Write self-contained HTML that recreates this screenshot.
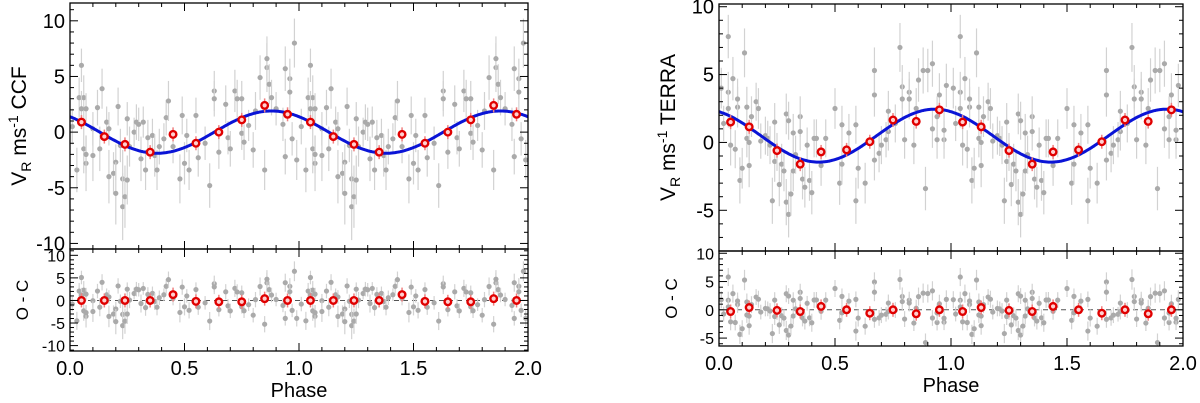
<!DOCTYPE html>
<html><head><meta charset="utf-8"><style>body{margin:0;background:#fff}svg{display:block}text{font-family:"Liberation Sans",sans-serif}</style></head>
<body>
<svg id="c" width="1200" height="403"></svg>
<script>
// Left (CCF) data, one phase period
const ccfPhase=[0.05,0.04,0.06,0.05,0.07,0.06,0.07,0.07,0.03,0.1,0.1,0.14,0.12,0.13,0.16,0.17,0.17,0.19,0.2,0.2,0.21,0.22,0.23,0.23,0.24,0.25,0.25,0.26,0.28,0.29,0.3,0.31,0.32,0.33,0.34,0.36,0.37,0.38,0.39,0.41,0.42,0.43,0.45,0.48,0.49,0.5,0.51,0.52,0.55,0.56,0.59,0.61,0.63,0.63,0.65,0.68,0.69,0.7,0.72,0.73,0.75,0.75,0.76,0.78,0.8,0.81,0.83,0.85,0.86,0.86,0.87,0.88,0.9,0.93,0.94,0.94,0.96,0.96,0.97,0.98,0.99,0.01];
const ccfValue=[6.0,3.1,3.1,2.1,2.1,-1.5,-2.8,-2.0,-3.4,0.3,-2.1,3.9,2.2,-1.5,0.9,0.3,-4.0,-3.7,-2.7,-5.5,2.3,-1.2,-4.2,-6.7,-5.8,-4.3,1.2,-1.3,0,0.9,0.7,-2.4,0.9,-3.4,-0.5,-0.3,-2.1,-3.4,-1.3,-0.6,1.3,2.8,-1.3,-4.2,1.5,-2.8,-0.3,-3.4,1.5,-2.3,-1.0,-4.8,3.7,3.0,-1.8,2.5,-0.5,-1.5,3.7,3.0,3.0,-0.1,-0.9,0.6,-1.6,1.9,4.9,-3.4,5.8,6.6,4.3,3.1,2.1,0.7,5.7,-2.2,4.8,3.6,-0.6,8.0,-2.5,0.5];
const ccfErr=[1.5,1.8,2.0,1.6,1.4,2.2,2.5,1.7,2.0,1.5,2.3,1.8,1.6,2.0,1.4,1.5,2.4,1.9,1.6,2.8,1.7,1.5,2.6,3.0,2.8,2.2,1.5,1.8,1.3,1.6,1.5,2.0,1.4,1.8,1.6,1.5,1.9,1.8,1.6,1.4,1.6,1.8,1.5,2.2,1.7,1.9,1.5,1.8,1.6,1.7,1.5,2.0,1.8,1.6,1.5,1.7,1.5,1.6,1.9,1.7,1.6,1.5,1.6,1.4,1.6,1.7,2.0,1.8,2.2,2.0,1.8,1.6,1.5,1.5,2.0,1.6,1.8,1.7,1.5,2.2,1.8,1.6];
const ccfBinPhase=[0.05,0.15,0.24,0.35,0.45,0.55,0.65,0.75,0.85,0.95];
const ccfBinValue=[0.9,-0.4,-1.1,-1.8,-0.2,-1.0,0.0,1.1,2.4,1.6];
const ccfBinResid=[0.0,0.0,0.0,0.0,1.3,-0.2,-0.3,-0.3,0.4,0.0];
const ccfModel={K:1.9,off:0,peak:0.88};
// Right (TERRA) data
const terPhase=[0.04,0.01,0.02,0.04,0.04,0.05,0.06,0.07,0.08,0.08,0.09,0.1,0.11,0.12,0.12,0.13,0.13,0.14,0.16,0.17,0.18,0.2,0.21,0.22,0.23,0.24,0.24,0.25,0.26,0.27,0.28,0.29,0.29,0.3,0.3,0.31,0.32,0.32,0.33,0.35,0.35,0.36,0.37,0.38,0.39,0.4,0.41,0.42,0.44,0.46,0.5,0.52,0.53,0.53,0.56,0.59,0.59,0.6,0.63,0.67,0.67,0.67,0.69,0.7,0.72,0.73,0.73,0.76,0.78,0.79,0.79,0.8,0.82,0.82,0.84,0.85,0.86,0.89,0.88,0.9,0.92,0.92,0.94,0.94,0.95,0.97,0.97,0.98];
const terValue=[7.8,4.0,1.4,3.7,2.5,-0.2,4.7,-0.5,2.6,3.2,-2.8,-1.9,6.6,2.6,0.3,-1.7,0,1.9,3.0,2.5,0.1,0.5,0.3,-0.2,-4.3,-1.4,1.5,-0.7,-3.1,-1.6,-2.1,-4.4,2.1,1.6,-5.3,-3.8,0.7,-2.1,-0.9,1.9,0.8,-2.7,-3.3,-0.2,-2.8,-3.7,0.3,0.3,-1.7,0.3,2.5,-3.0,1.3,-1.6,0.7,-4.3,1.3,-1.9,-3.0,5.3,3.5,-1.3,-0.8,-0.2,0.2,0.8,2.3,1.4,7.0,4.1,3.2,0.2,3.7,3.2,-0.2,2.5,4.6,-3.4,5.3,5.3,1.0,5.8,0.2,1.9,3.5,0.2,0.9,4.2];
const terErr=[1.6,1.5,1.3,1.5,1.4,1.5,1.6,1.4,1.5,1.5,1.7,1.5,1.8,1.5,1.4,1.6,1.3,1.5,1.4,1.5,1.3,1.4,1.3,1.4,1.7,1.5,1.4,1.4,1.6,1.5,1.5,1.7,1.5,1.4,1.7,1.6,1.4,1.5,1.4,1.5,1.4,1.5,1.5,1.3,1.5,1.6,1.4,1.4,1.5,1.4,1.5,1.6,1.4,1.5,1.4,1.7,1.4,1.5,1.5,1.7,1.6,1.5,1.4,1.4,1.3,1.4,1.5,1.4,1.8,1.6,1.5,1.4,1.5,1.5,1.4,1.5,1.6,1.6,1.7,1.6,1.4,1.7,1.4,1.5,1.6,1.4,1.4,1.6];
const terBinPhase=[0.05,0.13,0.25,0.35,0.44,0.55,0.65,0.75,0.85,0.95];
const terBinValue=[1.5,1.15,-0.6,-1.6,-0.7,-0.55,0.05,1.65,1.55,2.4];
const terBinResid=[-0.3,0.4,-0.1,-0.3,0.6,0.0,-0.6,0.0,-0.7,0.0];
const terModel={K:1.95,off:0.5,peak:0.93};
const xTicks=["0.0","0.5","1.0","1.5","2.0"];

const NS="http://www.w3.org/2000/svg",svg=document.getElementById('c');
function mk(t,a,p){const e=document.createElementNS(NS,t);for(const k in a)e.setAttribute(k,a[k]);(p||svg).appendChild(e);return e;}
function model(m,p){return m.off+m.K*Math.cos(2*Math.PI*(p-m.peak));}

function panel(cfg){
  const g=mk('g',{});
  const X=p=>cfg.x0+(cfg.x1-cfg.x0)*p/2;
  const sub=[{y0:cfg.t0,y1:cfg.t1,min:cfg.tMin,max:cfg.tMax,maj:cfg.tMaj,labs:cfg.tLabs,res:false},
             {y0:cfg.t1,y1:cfg.b1,min:cfg.bMin,max:cfg.bMax,maj:cfg.bMaj,labs:cfg.bLabs,res:true}];
  sub.forEach((s,si)=>{
    const Y=v=>s.y1-(v-s.min)/(s.max-s.min)*(s.y1-s.y0);
    const pg=mk('g',{},g);
    const cp='cp'+cfg.name+si;const cl=mk('clipPath',{id:cp},pg);mk('rect',{x:cfg.x0,y:s.y0,width:cfg.x1-cfg.x0,height:s.y1-s.y0},cl);
    const dg=mk('g',{'clip-path':`url(#${cp})`},pg);
    if(s.res){const l=mk('line',{x1:cfg.x0,x2:cfg.x1,y1:Y(0),y2:Y(0),stroke:'#555','stroke-dasharray':'5,4','stroke-width':1},dg);}
    for(let rep=0;rep<2;rep++){
      cfg.ph.forEach((p,i)=>{
        const v=s.res?cfg.val[i]-model(cfg.m,p):cfg.val[i];const e=cfg.err[i];
        mk('line',{x1:X(p+rep),x2:X(p+rep),y1:Y(v-e),y2:Y(v+e),stroke:'#d2d2d2','stroke-width':1.2},dg);
        const c=mk('circle',{cx:X(p+rep),cy:Y(v),r:2.6,fill:'#aaaaaa'},dg);
        
      });
    }
    if(!s.res){let d='';for(let k=0;k<=400;k++){const p=2*k/400;d+=(k?'L':'M')+X(p).toFixed(1)+','+Y(model(cfg.m,p)).toFixed(1);}
      const pth=mk('path',{d:d,fill:'none',stroke:'#0a14d6','stroke-width':3},dg);}
    for(let rep=0;rep<2;rep++){cfg.bp.forEach((p,i)=>{
      const v=s.res?cfg.br[i]:cfg.bv[i];
      mk('line',{x1:X(p+rep),x2:X(p+rep),y1:Y(v)-7,y2:Y(v)+7,stroke:'#f08080','stroke-width':1.5},dg);
      const c=mk('circle',{cx:X(p+rep),cy:Y(v),r:3.3,fill:'#ffd0d0',stroke:'#e00000','stroke-width':2.4},dg);
      });}
    mk('rect',{x:cfg.x0,y:s.y0,width:cfg.x1-cfg.x0,height:s.y1-s.y0,fill:'none',stroke:'#000','stroke-width':1.3},pg);
    for(let v=Math.ceil(s.min);v<=s.max;v++){const y=Y(v);const major=v%s.maj===0;const L=major?8:4;
      mk('line',{x1:cfg.x0,x2:cfg.x0+L,y1:y,y2:y,stroke:'#000'},pg);mk('line',{x1:cfg.x1,x2:cfg.x1-L,y1:y,y2:y,stroke:'#000'},pg);}
    s.labs.forEach(v=>{const t=mk('text',{x:cfg.x0-5,y:Y(v)+(s.res?6:7),'text-anchor':'end','font-size':s.res?16:20},pg);t.textContent=v;});
    for(let k=0;k<=20;k++){const x=X(k/10);const L=k%5===0?8:4;
      mk('line',{x1:x,x2:x,y1:s.y1,y2:s.y1-L,stroke:'#000'},pg);mk('line',{x1:x,x2:x,y1:s.y0,y2:s.y0+L,stroke:'#000'},pg);}
  });
  xTicks.forEach((l,i)=>{const t=mk('text',{x:X(i*0.5),y:cfg.b1+24,'text-anchor':'middle','font-size':20},g);t.textContent=l;});
  const xt=mk('text',{x:(cfg.x0+cfg.x1)/2,y:cfg.b1+46,'text-anchor':'middle','font-size':20},g);xt.textContent='Phase';
  const yt=mk('text',{transform:`translate(${cfg.x0-44},${(cfg.t0+cfg.t1)/2}) rotate(-90)`,'text-anchor':'middle','font-size':21},g);
  yt.innerHTML=`V<tspan font-size="14" dy="5">R</tspan><tspan dy="-5"> ms</tspan><tspan font-size="14" dy="-8">-1</tspan><tspan dy="8"> ${cfg.label}</tspan>`;
  
  const rt=mk('text',{transform:`translate(${cfg.x0-42},${(cfg.t1+cfg.b1)/2}) rotate(-90)`,'text-anchor':'middle','font-size':17},g);rt.textContent='O - C';
  
}
panel({name:'ccf-panel',label:'CCF',x0:70,x1:528,t0:3,t1:249,b1:351,tMin:-10.5,tMax:11.6,tMaj:5,tLabs:[10,5,0,-5,-10],bMin:-11.2,bMax:11.4,bMaj:5,bLabs:[10,5,0,-5,-10],
  ph:ccfPhase,val:ccfValue,err:ccfErr,bp:ccfBinPhase,bv:ccfBinValue,br:ccfBinResid,m:ccfModel});
panel({name:'terra-panel',label:'TERRA',x0:719,x1:1183,t0:4,t1:251,b1:346,tMin:-8,tMax:10.2,tMaj:5,tLabs:[10,5,0,-5],bMin:-6.4,bMax:10.4,bMaj:5,bLabs:[10,5,0,-5],
  ph:terPhase,val:terValue,err:terErr,bp:terBinPhase,bv:terBinValue,br:terBinResid,m:terModel});
</script>
</body></html>
